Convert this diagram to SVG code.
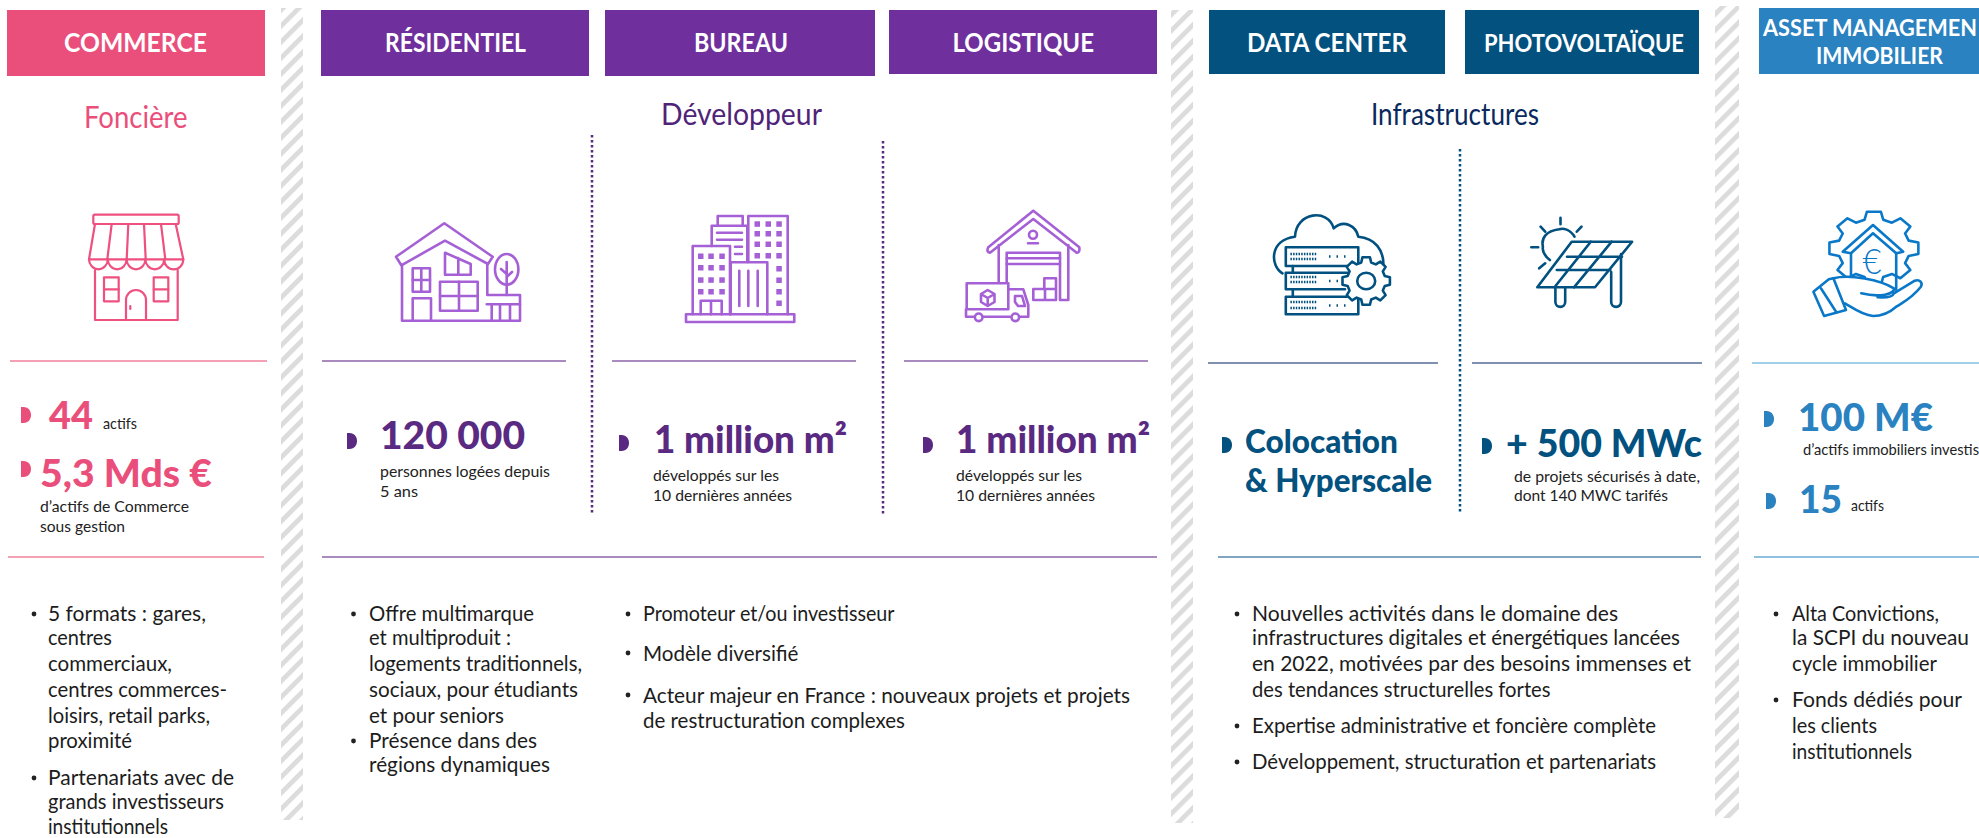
<svg xmlns="http://www.w3.org/2000/svg" width="1979" height="838" viewBox="0 0 1979 838">
<defs>
<style>
text{font-family:"Lato","Open Sans","Liberation Sans",sans-serif}
.hd{fill:#fff;font-size:26px;font-weight:700}
.hs{fill:#fff;font-size:23px;font-weight:700}
.sub{font-size:30px;font-weight:400}
.big{font-size:38px;font-weight:900}
.bm{font-size:33px;font-weight:900}
.sm{font-size:15px;fill:#222;font-weight:400}
.li{font-size:21px;fill:#1c1c1c;font-weight:400}
.ico{fill:none;stroke-linejoin:round;stroke-linecap:round;stroke-width:2.2}
.pk{stroke:#ee5080}.pu{stroke:#a560d5;stroke-width:2.6}.na{stroke:#005080;stroke-width:2.6}.bl{stroke:#0a78c8;stroke-width:2.6}
.d1{stroke:#a98bc0;stroke-width:2}
.dot{stroke-width:2.5;stroke-dasharray:2.5 2.5;fill:none}
.dt{fill:#222}
</style>
<pattern id="hatch" width="11.3" height="11.3" patternUnits="userSpaceOnUse" patternTransform="rotate(45)"><rect width="11.3" height="11.3" fill="#fff"/><rect width="4.800" height="11.3" fill="#dcdcdc"/></pattern>
<path id="db" d="M0 0H2.500C7.500 0 10 4 10 8C10 12 7.500 16 2.500 16H0Z"/>
<polygon id="gear" vector-effect="non-scaling-stroke" points="77.3,-20.7 98.8,-15.6 98.8,15.6 77.3,20.7 69.3,40 80.9,58.8 58.8,80.9 40,69.3 20.7,77.3 15.6,98.8 -15.6,98.8 -20.7,77.3 -40,69.3 -58.8,80.9 -80.9,58.8 -69.3,40 -77.3,20.7 -98.8,15.6 -98.8,-15.6 -77.3,-20.7 -69.3,-40 -80.9,-58.8 -58.8,-80.9 -40,-69.3 -20.7,-77.3 -15.6,-98.8 15.6,-98.8 20.7,-77.3 40,-69.3 58.8,-80.9 80.9,-58.8 69.3,-40"/>
</defs>
<rect width="1979" height="838" fill="#fff"/>
<g id="separators">
<rect x="281" y="8" width="22" height="812" fill="url(#hatch)"/>
<rect x="1171" y="10" width="22" height="813" fill="url(#hatch)"/>
<rect x="1715" y="6" width="24" height="812" fill="url(#hatch)"/>
</g>
<g id="connectors">
<line class="d1" x1="10" y1="361" x2="267" y2="361" style="stroke:#f5a0b5"/>
<line class="d1" x1="322" y1="361" x2="566" y2="361"/>
<line class="d1" x1="612" y1="361" x2="856" y2="361"/>
<line class="d1" x1="904" y1="361" x2="1148" y2="361"/>
<line class="d1" x1="1208" y1="363" x2="1438" y2="363" style="stroke:#7f90b0"/>
<line class="d1" x1="1472" y1="363" x2="1702" y2="363" style="stroke:#7f90b0"/>
<line class="d1" x1="1752" y1="363" x2="1979" y2="363" style="stroke:#a0d0ea"/>
<line class="d1" x1="8" y1="557" x2="264" y2="557" style="stroke:#f5a0b5"/>
<line class="d1" x1="322" y1="557" x2="1157" y2="557"/>
<line class="d1" x1="1218" y1="557" x2="1701" y2="557" style="stroke:#7fa5c0"/>
<line class="d1" x1="1754" y1="557" x2="1979" y2="557" style="stroke:#8fc0e0"/>
<line class="dot" x1="592" y1="135" x2="592" y2="515" stroke="#5a2a82"/>
<line class="dot" x1="883" y1="141" x2="883" y2="515" stroke="#5a2a82"/>
<line class="dot" x1="1460" y1="149" x2="1460" y2="514" stroke="#005080"/>
</g>
<g id="commerce">
<rect x="7" y="10" width="258" height="66" fill="#ea4f7b"/>
<text class="hd" x="64" y="52" textLength="143" lengthAdjust="spacingAndGlyphs">COMMERCE</text>
<text class="sub" x="84" y="128" fill="#ea4f7b" textLength="103.500" lengthAdjust="spacingAndGlyphs">Foncière</text>
<g class="ico pk">
<rect x="93.300" y="214.700" width="85.400" height="9.300" rx="1.500"/>
<path d="M95 224L89 259.300H183.300L175.700 224M111.700 224L107.300 259.300M128.300 224L126.700 259.300M144 224L145.700 259.300M161 224L165.300 259.300"/>
<path d="M89 259.300A9.400 10 0 0 0 107.800 259.300A9.400 10 0 0 0 126.600 259.300A9.400 10 0 0 0 145.400 259.300A9.400 10 0 0 0 164.200 259.300A9.500 10 0 0 0 183.300 259.300"/>
<path d="M95 270V320H177.700V270M126 320V300A10 10 0 0 1 146 300V320"/>
<rect x="104" y="277.300" width="14.700" height="24"/><line x1="104" y1="289.300" x2="118.700" y2="289.300"/>
<rect x="153.700" y="277.300" width="14.600" height="24"/><line x1="153.700" y1="289.300" x2="168.300" y2="289.300"/>
<line x1="130.300" y1="306" x2="130.300" y2="309"/>
</g>
<use href="#db" x="21" y="407" fill="#ea4f7b"/>
<text class="big" x="49" y="429" fill="#ea4f7b" textLength="44" lengthAdjust="spacingAndGlyphs">44</text>
<text class="sm" x="103" y="429" textLength="34" lengthAdjust="spacingAndGlyphs">actifs</text>
<use href="#db" x="21" y="461" fill="#ea4f7b"/>
<text class="big" x="40" y="487" fill="#ea4f7b" textLength="172" lengthAdjust="spacingAndGlyphs">5,3 Mds €</text>
<text class="sm" x="40" y="512" textLength="149" lengthAdjust="spacingAndGlyphs">d’actifs de Commerce</text>
<text class="sm" x="40" y="532" textLength="85" lengthAdjust="spacingAndGlyphs">sous gestion</text>
<circle class="dt" cx="34" cy="614" r="2.400"/>
<text class="li" x="48" y="621" textLength="158" lengthAdjust="spacingAndGlyphs">5 formats : gares,</text>
<text class="li" x="48" y="645" textLength="64" lengthAdjust="spacingAndGlyphs">centres</text>
<text class="li" x="48" y="671" textLength="124" lengthAdjust="spacingAndGlyphs">commerciaux,</text>
<text class="li" x="48" y="697" textLength="179" lengthAdjust="spacingAndGlyphs">centres commerces-</text>
<text class="li" x="48" y="723" textLength="162" lengthAdjust="spacingAndGlyphs">loisirs, retail parks,</text>
<text class="li" x="48" y="748" textLength="84" lengthAdjust="spacingAndGlyphs">proximité</text>
<circle class="dt" cx="34" cy="778" r="2.400"/>
<text class="li" x="48" y="785" textLength="186" lengthAdjust="spacingAndGlyphs">Partenariats avec de</text>
<text class="li" x="48" y="809" textLength="176" lengthAdjust="spacingAndGlyphs">grands investisseurs</text>
<text class="li" x="48" y="834" textLength="120" lengthAdjust="spacingAndGlyphs">institutionnels</text>
</g>
<g id="residentiel">
<rect x="321" y="10" width="268" height="66" fill="#6f2f9c"/>
<text class="hd" x="385" y="52" textLength="141" lengthAdjust="spacingAndGlyphs">RÉSIDENTIEL</text>
<g class="ico pu">
<path d="M396 256.700L444.300 223.300L492.700 256.700L488 264L445 240.700L401.300 265.300Z"/>
<path d="M402 265V320.700H520V295H487.300V264"/>
<path d="M486.700 304.300H520M491.700 304.300V320.700M500 304.300V320.700M510 304.300V320.700"/>
<ellipse cx="506.700" cy="269.300" rx="11.700" ry="15.300"/>
<path d="M506.700 262V295M506.700 274L501 269M506.700 277L512 272"/>
<rect x="412.700" y="268.300" width="17.300" height="23.400"/><path d="M421.300 268.300V291.700M412.700 280H430"/>
<path d="M412.700 320.700V298.300H431V320.700"/>
<rect x="440" y="281.700" width="37.700" height="29"/><path d="M459 281.700V310.700M440 296H477.700"/>
<path d="M445 252.700L470.700 264V274.700H445ZM458.300 258V274.700"/>
</g>
<use href="#db" x="347" y="433" fill="#5a2a82"/>
<text class="big" x="380" y="449" fill="#5a2a82" textLength="145" lengthAdjust="spacingAndGlyphs">120 000</text>
<text class="sm" x="380" y="477" textLength="170" lengthAdjust="spacingAndGlyphs">personnes logées depuis</text>
<text class="sm" x="380" y="497" textLength="38" lengthAdjust="spacingAndGlyphs">5 ans</text>
<circle class="dt" cx="353.500" cy="614" r="2.400"/>
<text class="li" x="369" y="621" textLength="165" lengthAdjust="spacingAndGlyphs">Offre multimarque</text>
<text class="li" x="369" y="645" textLength="142" lengthAdjust="spacingAndGlyphs">et multiproduit :</text>
<text class="li" x="369" y="671" textLength="213" lengthAdjust="spacingAndGlyphs">logements traditionnels,</text>
<text class="li" x="369" y="697" textLength="209" lengthAdjust="spacingAndGlyphs">sociaux, pour étudiants</text>
<text class="li" x="369" y="723" textLength="135" lengthAdjust="spacingAndGlyphs">et pour seniors</text>
<circle class="dt" cx="353.500" cy="741" r="2.400"/>
<text class="li" x="369" y="748" textLength="168" lengthAdjust="spacingAndGlyphs">Présence dans des</text>
<text class="li" x="369" y="772" textLength="181" lengthAdjust="spacingAndGlyphs">régions dynamiques</text>
</g>
<g id="bureau">
<rect x="605" y="10" width="270" height="66" fill="#6f2f9c"/>
<text class="hd" x="694" y="52" textLength="94" lengthAdjust="spacingAndGlyphs">BUREAU</text>
<text class="sub" x="661" y="125" fill="#4f2378" textLength="161" lengthAdjust="spacingAndGlyphs">Développeur</text>
<g class="ico pu">
<rect x="686" y="314.300" width="108.300" height="7.700"/>
<path d="M692.700 314.300V246H730V314.300"/>
<path d="M730.700 314.300V262.300H767.300V314.300"/>
<path d="M739.300 270.700V306M748.300 270.700V306M757.700 270.700V306"/>
<path d="M711.700 246V225.700H747.300V262"/>
<path d="M717 232.700H742M717 239.700H742M735 246.700H742M735 254H742"/>
<path d="M717.700 225.700V216H742.700V225.700"/>
<path d="M748.300 262V216H787.700V314.300"/>
<path d="M700.700 314.300V300.700H721.700V314.300M711 300.700V314.300"/>
</g>
<g fill="#a560d5">
<rect x="698" y="253.500" width="5.500" height="5.500"/><rect x="708.300" y="253.500" width="5.500" height="5.500"/><rect x="719.300" y="253.500" width="5.500" height="5.500"/>
<rect x="698" y="265" width="5.500" height="5.500"/><rect x="708.300" y="265" width="5.500" height="5.500"/><rect x="719.300" y="265" width="5.500" height="5.500"/>
<rect x="698" y="277.300" width="5.500" height="5.500"/><rect x="708.300" y="277.300" width="5.500" height="5.500"/><rect x="719.300" y="277.300" width="5.500" height="5.500"/>
<rect x="698" y="289" width="5.500" height="5.500"/><rect x="708.300" y="289" width="5.500" height="5.500"/><rect x="719.300" y="289" width="5.500" height="5.500"/>
<rect x="754.500" y="221.300" width="5.500" height="5.500"/><rect x="765.500" y="221.300" width="5.500" height="5.500"/><rect x="776.300" y="221.300" width="5.500" height="5.500"/>
<rect x="754.500" y="231" width="5.500" height="5.500"/><rect x="765.500" y="231" width="5.500" height="5.500"/><rect x="776.300" y="231" width="5.500" height="5.500"/>
<rect x="754.500" y="241.500" width="5.500" height="5.500"/><rect x="765.500" y="241.500" width="5.500" height="5.500"/><rect x="776.300" y="241.500" width="5.500" height="5.500"/>
<rect x="754.500" y="253" width="5.500" height="5.500"/><rect x="765.500" y="253" width="5.500" height="5.500"/><rect x="776.300" y="253" width="5.500" height="5.500"/>
<rect x="776.300" y="266" width="5.500" height="5.500"/><rect x="776.300" y="277.500" width="5.500" height="5.500"/><rect x="776.300" y="289" width="5.500" height="5.500"/><rect x="776.300" y="300.500" width="5.500" height="5.500"/>
</g>
<use href="#db" x="619" y="435" fill="#5a2a82"/>
<text class="big" x="654" y="453" fill="#5a2a82" textLength="193" lengthAdjust="spacingAndGlyphs">1 million m²</text>
<text class="sm" x="653" y="481" textLength="126" lengthAdjust="spacingAndGlyphs">développés sur les</text>
<text class="sm" x="653" y="501" textLength="139" lengthAdjust="spacingAndGlyphs">10 dernières années</text>
<circle class="dt" cx="628" cy="614" r="2.400"/>
<text class="li" x="643" y="621" textLength="251.500" lengthAdjust="spacingAndGlyphs">Promoteur et/ou investisseur</text>
<circle class="dt" cx="628" cy="653" r="2.400"/>
<text class="li" x="643" y="661" textLength="155.500" lengthAdjust="spacingAndGlyphs">Modèle diversifié</text>
<circle class="dt" cx="628" cy="695" r="2.400"/>
<text class="li" x="643" y="703" textLength="487" lengthAdjust="spacingAndGlyphs">Acteur majeur en France : nouveaux projets et projets</text>
<text class="li" x="643" y="728" textLength="262" lengthAdjust="spacingAndGlyphs">de restructuration complexes</text>
</g>
<g id="logistique">
<rect x="889" y="10" width="268" height="64" fill="#6f2f9c"/>
<text class="hd" x="952.500" y="52" textLength="141.500" lengthAdjust="spacingAndGlyphs">LOGISTIQUE</text>
<g class="ico pu">
<path d="M988.300 247.300L1033.300 210.700L1079.300 247.300Q1080 253 1076.700 252.700L1033.300 219L990 252.700Q986 252 988.300 247.300Z"/>
<path d="M998.700 245V282.700M1006.700 282.700V252.700H1060V300H1068.300V245"/>
<path d="M1006.700 258.300H1060M1006.700 264H1060M1028 243.300H1038"/>
<circle cx="1033" cy="234.700" r="4"/>
<path d="M1033.300 300V289H1056V300ZM1045 289V300M1044.300 289V278.300H1056V289"/>
<path d="M966.700 309.300V283.300H1008.300V309.300ZM1008.300 289.300H1023.300L1028.300 305V316.700H1020M1010 316.700H983M974 316.700H966V309.300"/>
<path d="M1015 296H1022L1025 306H1018L1015 302Z"/>
<circle cx="978.700" cy="317.300" r="3.800"/><circle cx="1015.300" cy="317.300" r="3.800"/>
<path d="M987.700 290L994.500 294V302L987.700 306L981 302V294ZM981 294L987.700 298L994.500 294M987.700 298V306"/>
</g>
<use href="#db" x="923" y="437" fill="#5a2a82"/>
<text class="big" x="956" y="453" fill="#5a2a82" textLength="194" lengthAdjust="spacingAndGlyphs">1 million m²</text>
<text class="sm" x="956" y="481" textLength="126" lengthAdjust="spacingAndGlyphs">développés sur les</text>
<text class="sm" x="956" y="501" textLength="139" lengthAdjust="spacingAndGlyphs">10 dernières années</text>
</g>
<g id="datacenter">
<rect x="1209" y="10" width="236" height="64" fill="#02517f"/>
<text class="hd" x="1247" y="52" textLength="160" lengthAdjust="spacingAndGlyphs">DATA CENTER</text>
<text class="sub" x="1371" y="125" fill="#0a2a5e" textLength="168" lengthAdjust="spacingAndGlyphs">Infrastructures</text>
<g class="ico na">
<path d="M1282.500 273.300C1270 266 1269 240 1295 236.700C1296 212 1328 208 1333.700 228.300C1344 219 1356 226 1358.300 236.700C1375 238 1384 250 1383.400 266"/>
<rect x="1285.800" y="247.300" width="72.500" height="18.700"/>
<path d="M1350 272.700H1285.800V289.300H1345"/>
<rect x="1285.800" y="296.700" width="72.500" height="17.600"/>
<path d="M1292.800 266V272.700M1292.800 289.300V296.700"/>
<g stroke-dasharray="1.500 1.200" stroke-linecap="butt"><path d="M1290.400 254H1316.500M1290.400 259H1316.500M1290.400 277H1316.500M1290.400 282H1316.500M1290.400 302H1316.500M1290.400 308H1316.500"/></g>
<g stroke-dasharray="1.500 6" stroke-linecap="butt"><path d="M1329 256.500H1348M1329 281H1340M1329 305.500H1348"/></g>
<use href="#gear" transform="translate(1366.200 281) scale(.24)" fill="#fff"/>
<ellipse cx="1366.200" cy="281" rx="9" ry="8.300"/>
</g>
<use href="#db" x="1222" y="437" fill="#02517f"/>
<text class="bm" x="1245" y="453" fill="#02517f" textLength="153" lengthAdjust="spacingAndGlyphs">Colocation</text>
<text class="bm" x="1245" y="492" fill="#02517f" textLength="187" lengthAdjust="spacingAndGlyphs">&amp; Hyperscale</text>
<circle class="dt" cx="1237" cy="614" r="2.400"/>
<text class="li" x="1252" y="621" textLength="366" lengthAdjust="spacingAndGlyphs">Nouvelles activités dans le domaine des</text>
<text class="li" x="1252" y="645" textLength="428" lengthAdjust="spacingAndGlyphs">infrastructures digitales et énergétiques lancées</text>
<text class="li" x="1252" y="671" textLength="439" lengthAdjust="spacingAndGlyphs">en 2022, motivées par des besoins immenses et</text>
<text class="li" x="1252" y="697" textLength="298.500" lengthAdjust="spacingAndGlyphs">des tendances structurelles fortes</text>
<circle class="dt" cx="1237" cy="726" r="2.400"/>
<text class="li" x="1252" y="733" textLength="404" lengthAdjust="spacingAndGlyphs">Expertise administrative et foncière complète</text>
<circle class="dt" cx="1237" cy="762" r="2.400"/>
<text class="li" x="1252" y="769" textLength="404" lengthAdjust="spacingAndGlyphs">Développement, structuration et partenariats</text>
</g>
<g id="photovoltaique">
<rect x="1465" y="10" width="234" height="64" fill="#02517f"/>
<text class="hd" x="1484" y="52" style="font-size:24px" textLength="200" lengthAdjust="spacingAndGlyphs">PHOTOVOLTAÏQUE</text>
<g class="ico na">
<path d="M1560.500 217.700V224.300M1540.600 226.700L1545.200 231.700M1581.500 226.700L1576.800 231.700M1531.300 247.300H1538.200M1539.200 268.300L1545.200 263.300"/>
<path d="M1574.500 236.700C1570 229 1563 228 1559.200 229.300C1546 231 1541 238 1542.900 246.700C1542 252 1546 257 1549.900 260"/>
<path d="M1571.700 241.700H1632.100L1595 287.300H1537.300Z"/>
<path d="M1567 256.700H1622M1556.800 270H1610.300M1590.800 241.700L1554.500 287.300M1611.700 241.700L1574 287.300"/>
<path d="M1555.400 288V302A4.900 4.900 0 0 0 1565.200 302V288M1611.200 272V302A4.900 4.900 0 0 0 1621 302V254"/>
</g>
<use href="#db" x="1482" y="438" fill="#02517f"/>
<text class="big" x="1506" y="457" fill="#02517f" textLength="196" lengthAdjust="spacingAndGlyphs">+ 500 MWc</text>
<text class="sm" x="1514" y="482" textLength="186" lengthAdjust="spacingAndGlyphs">de projets sécurisés à date,</text>
<text class="sm" x="1514" y="501" textLength="154" lengthAdjust="spacingAndGlyphs">dont 140 MWC tarifés</text>
</g>
<g id="asset">
<rect x="1759" y="8" width="220" height="66" fill="#2a82c0"/>
<text class="hs" x="1763" y="36" textLength="214" lengthAdjust="spacingAndGlyphs">ASSET MANAGEMEN</text>
<text class="hs" x="1816" y="64" textLength="127" lengthAdjust="spacingAndGlyphs">IMMOBILIER</text>
<g class="ico bl">
<use href="#gear" transform="translate(1873.900 248.300) scale(.45 .37)"/>
<path d="M1873 225L1842.700 251.700L1851 253.300L1873 233.300L1896.200 253.300L1903.200 251.700Z" fill="#fff"/>
<path d="M1851 253.300V278M1896.200 253.300V290"/>
<path d="M1833.400 278.300C1850 274 1880 280 1893.900 288.300C1895 294 1880 298 1861.300 293.300M1877.600 297.300C1888 298 1893 296 1893.900 293.300L1914.800 280.700C1920 279 1923 283 1920.900 286.700C1912 298 1905 301 1896.200 306.700C1888 314 1880 316 1873 316C1862 315 1853 308 1845 303.300" fill="#fff"/>
<path d="M1813.400 291.700L1828.800 279.300L1833.400 278.300L1846 310L1824.100 316ZM1820.900 288.300L1836.700 312.700"/>
</g>
<text x="1862.500" y="274" style="font-size:36px;font-weight:300" fill="#0a78c8" textLength="19" lengthAdjust="spacingAndGlyphs">€</text>
<use href="#db" x="1764" y="411" fill="#2a82c0"/>
<text class="big" x="1798" y="431" fill="#2a82c0" textLength="135" lengthAdjust="spacingAndGlyphs">100 M€</text>
<text class="sm" x="1803" y="455" textLength="176" lengthAdjust="spacingAndGlyphs">d’actifs immobiliers investis</text>
<use href="#db" x="1766" y="493" fill="#2a82c0"/>
<text class="big" x="1799" y="513" fill="#2a82c0" textLength="43" lengthAdjust="spacingAndGlyphs">15</text>
<text class="sm" x="1851" y="511" textLength="33" lengthAdjust="spacingAndGlyphs">actifs</text>
<circle class="dt" cx="1776" cy="614" r="2.400"/>
<text class="li" x="1792" y="621" textLength="147" lengthAdjust="spacingAndGlyphs">Alta Convictions,</text>
<text class="li" x="1792" y="645" textLength="177" lengthAdjust="spacingAndGlyphs">la SCPI du nouveau</text>
<text class="li" x="1792" y="671" textLength="145" lengthAdjust="spacingAndGlyphs">cycle immobilier</text>
<circle class="dt" cx="1776" cy="700" r="2.400"/>
<text class="li" x="1792" y="707" textLength="170" lengthAdjust="spacingAndGlyphs">Fonds dédiés pour</text>
<text class="li" x="1792" y="733" textLength="85" lengthAdjust="spacingAndGlyphs">les clients</text>
<text class="li" x="1792" y="759" textLength="120" lengthAdjust="spacingAndGlyphs">institutionnels</text>
</g>
</svg>
